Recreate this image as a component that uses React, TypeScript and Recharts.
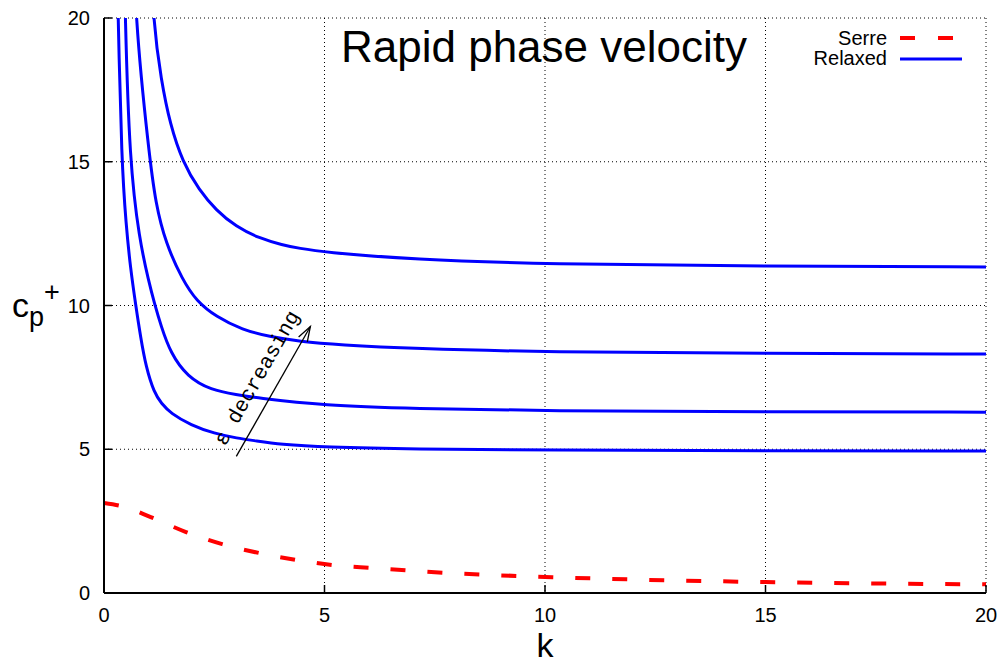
import { LineChart, Line, XAxis, YAxis, CartesianGrid, Legend, ReferenceLine } from "recharts"

const kTicks = [0, 5, 10, 15, 20]
const cTicks = [0, 5, 10, 15, 20]

// Serre (red dashed)
const serreK = [0, 0.5, 1.06, 1.86, 2.68, 3.52, 4.36, 5.2, 6.07, 8, 10, 12, 15, 20]
const serreC = [3.13, 2.98, 2.64, 2.12, 1.7, 1.39, 1.15, 0.97, 0.87, 0.68, 0.56, 0.47, 0.38, 0.3]

// Relaxed (blue), four values of epsilon
const relaxed1K = [0.27, 0.32, 0.4, 0.5, 0.6, 0.72, 0.83, 0.95, 1.14, 1.3, 1.51, 1.97, 2.5, 3.03, 3.41, 4, 5, 7, 10, 15, 20]
const relaxed1C = [24, 20, 15, 12.8, 11.3, 10.0, 8.9, 7.87, 6.95, 6.6, 6.25, 5.84, 5.55, 5.38, 5.3, 5.17, 5.07, 5.0, 4.97, 4.95, 4.94]

const relaxed2K = [0.43, 0.48, 0.58, 0.8, 1.02, 1.14, 1.29, 1.51, 1.89, 2.42, 3.03, 3.41, 5, 7, 10, 15, 20]
const relaxed2C = [24, 20, 15, 12.3, 10.8, 10.1, 9.3, 8.34, 7.52, 7.06, 6.89, 6.8, 6.52, 6.42, 6.33, 6.3, 6.29]

const relaxed3K = [0.65, 0.7, 1.02, 1.17, 1.4, 1.78, 2.1, 2.54, 3.14, 3.75, 4.43, 5.34, 7, 10, 15, 20]
const relaxed3C = [24, 20, 15.3, 13.55, 12.16, 10.89, 10.15, 9.61, 9.15, 8.92, 8.75, 8.63, 8.5, 8.38, 8.34, 8.31]

const relaxed4K = [1.04, 1.1, 1.3, 1.5, 1.78, 2.16, 2.54, 2.99, 3.52, 4.05, 4.43, 4.96, 7, 10, 15, 20]
const relaxed4C = [23.5, 20, 17.8, 16.3, 15.0, 14.0, 13.32, 12.74, 12.34, 12.1, 11.99, 11.86, 11.6, 11.44, 11.37, 11.34]

// "epsilon decreasing" arrow, from/to in data units
const arrowK = [3.0, 4.68]
const arrowC = [4.75, 9.27]

const legendItems = [
  { name: "Serre", color: "#ff0000", dash: "15 23" },
  { name: "Relaxed", color: "#0000ff", dash: undefined },
]

const toPoints = (ks: number[], cs: number[]) => ks.map((k, i) => ({ k, c: cs[i] }))

const serre = toPoints(serreK, serreC)
const relaxed = [
  toPoints(relaxed1K, relaxed1C),
  toPoints(relaxed2K, relaxed2C),
  toPoints(relaxed3K, relaxed3C),
  toPoints(relaxed4K, relaxed4C),
]

const FONT = "'Liberation Sans', Arial, Helvetica, sans-serif"
const MONO = "'Liberation Mono', 'DejaVu Sans Mono', monospace"
const X_MARGIN = 12
const Y_MARGIN = 14
const TICK_LEN = 8

function BottomTick({ x, y, payload }: any) {
  const axisY = y - X_MARGIN
  return (
    <g>
      <line x1={x} y1={axisY} x2={x} y2={axisY - TICK_LEN} stroke="#000" strokeWidth={1.5} />
      <text x={x} y={y + 17} textAnchor="middle" style={{ fontSize: 20, fontFamily: FONT }} fill="#000">
        {payload.value}
      </text>
    </g>
  )
}

function TopTick({ x, y }: any) {
  return <line x1={x} y1={y} x2={x} y2={y + TICK_LEN} stroke="#000" strokeWidth={1.5} />
}

function LeftTick({ x, y, payload }: any) {
  const axisX = x + Y_MARGIN
  return (
    <g>
      <line x1={axisX} y1={y} x2={axisX + TICK_LEN} y2={y} stroke="#000" strokeWidth={1.5} />
      <text x={x} y={y + 7} textAnchor="end" style={{ fontSize: 20, fontFamily: FONT }} fill="#000">
        {payload.value}
      </text>
    </g>
  )
}

function RightTick({ x, y }: any) {
  return <line x1={x} y1={y} x2={x - TICK_LEN} y2={y} stroke="#000" strokeWidth={1.5} />
}

function ArrowShape(props: any) {
  const { x1, y1, x2, y2 } = props
  const dx = x2 - x1
  const dy = y2 - y1
  const len = Math.sqrt(dx * dx + dy * dy)
  const ux = dx / len
  const uy = dy / len
  const nx = uy
  const ny = -ux
  const head = 15
  const spread = 5
  const bx = x2 - ux * head
  const by = y2 - uy * head
  const angle = (Math.atan2(dy, dx) * 180) / Math.PI
  const cx = (x1 + x2) / 2 + nx * 20 + ux * 3.5
  const cy = (y1 + y2) / 2 + ny * 20 + uy * 3.5
  return (
    <g>
      <line x1={x1} y1={y1} x2={x2} y2={y2} stroke="#000" strokeWidth={1.3} />
      <polyline
        points={`${bx + nx * spread},${by + ny * spread} ${x2},${y2} ${bx - nx * spread},${by - ny * spread}`}
        fill="none"
        stroke="#000"
        strokeWidth={1.3}
      />
      <text
        x={cx}
        y={cy}
        transform={`rotate(${angle} ${cx} ${cy})`}
        textAnchor="middle"
        dominantBaseline="central"
        style={{ fontSize: 21, fontFamily: MONO }}
        fill="#000"
      >
        ε decreasing
      </text>
    </g>
  )
}

function LegendBox() {
  return (
    <svg width={200} height={50}>
      {legendItems.map((item, i) => (
        <g key={item.name}>
          <text x={107} y={25 + i * 20} textAnchor="end" style={{ fontSize: 20, fontFamily: FONT }} fill="#000">
            {item.name}
          </text>
          <line
            x1={120}
            y1={18 + i * 21}
            x2={item.dash ? 173 : 182}
            y2={18 + i * 21}
            stroke={item.color}
            strokeWidth={item.dash ? 4 : 3}
            strokeDasharray={item.dash}
          />
        </g>
      ))}
    </svg>
  )
}

export default function App() {
  return (
    <div style={{ position: "absolute", left: 0, top: 0, width: 1005, height: 665, background: "#fff", fontFamily: FONT }}>
      <LineChart width={1005} height={665} margin={{ top: 18, right: 19, bottom: 42, left: 44 }}>
        <CartesianGrid stroke="#000" strokeDasharray="1 3" strokeWidth={1} />
        <XAxis
          dataKey="k"
          type="number"
          domain={[0, 20]}
          ticks={kTicks}
          allowDataOverflow
          height={30}
          tickSize={0}
          tickMargin={X_MARGIN}
          tickLine={false}
          tick={<BottomTick />}
          axisLine={{ stroke: "#000", strokeWidth: 2 }}
        />
        <XAxis
          xAxisId="top"
          orientation="top"
          dataKey="k"
          type="number"
          domain={[0, 20]}
          ticks={kTicks}
          allowDataOverflow
          height={0}
          tickSize={0}
          tickMargin={0}
          tickLine={false}
          tick={<TopTick />}
          axisLine={{ stroke: "#000", strokeWidth: 2 }}
        />
        <YAxis
          type="number"
          domain={[0, 20]}
          ticks={cTicks}
          allowDataOverflow
          width={60}
          tickSize={0}
          tickMargin={Y_MARGIN}
          tickLine={false}
          tick={<LeftTick />}
          axisLine={{ stroke: "#000", strokeWidth: 2 }}
        />
        <YAxis
          yAxisId="right"
          orientation="right"
          type="number"
          domain={[0, 20]}
          ticks={cTicks}
          allowDataOverflow
          width={0}
          tickSize={0}
          tickMargin={0}
          tickLine={false}
          tick={<RightTick />}
          axisLine={{ stroke: "#000", strokeWidth: 2 }}
        />
        <Legend
          layout="vertical"
          align="center"
          verticalAlign="middle"
          wrapperStyle={{ left: 780, top: 20, width: 200 }}
          content={() => <LegendBox />}
        />
        <Line
          data={serre}
          dataKey="c"
          name="Serre"
          type="monotone"
          stroke="#ff0000"
          strokeWidth={4}
          strokeDasharray="15 22"
          dot={false}
          isAnimationActive={false}
        />
        {relaxed.map((pts, i) => (
          <Line
            key={i}
            data={pts}
            dataKey="c"
            name={i === 0 ? "Relaxed" : `Relaxed ${i + 1}`}
            type="basis"
            stroke="#0000ff"
            strokeWidth={3}
            dot={false}
            isAnimationActive={false}
          />
        ))}
        <ReferenceLine
          segment={[
            { x: arrowK[0], y: arrowC[0] },
            { x: arrowK[1], y: arrowC[1] },
          ]}
          shape={<ArrowShape />}
        />
      </LineChart>
      <div style={{ position: "absolute", left: 0, width: 1088, top: 25, textAlign: "center", fontSize: 44, lineHeight: "44px", color: "#000" }}>
        Rapid phase velocity
      </div>
      <div style={{ position: "absolute", left: 0, width: 1090, top: 628, textAlign: "center", fontSize: 34, lineHeight: "34px", color: "#000" }}>
        k
      </div>
      <div style={{ position: "absolute", left: 12, top: 288, fontSize: 34, lineHeight: "34px", color: "#000", whiteSpace: "nowrap" }}>
        c
        <span style={{ fontSize: 27, position: "relative", top: 9 }}>p</span>
        <span style={{ fontSize: 27, position: "relative", top: -16 }}>+</span>
      </div>
    </div>
  )
}
